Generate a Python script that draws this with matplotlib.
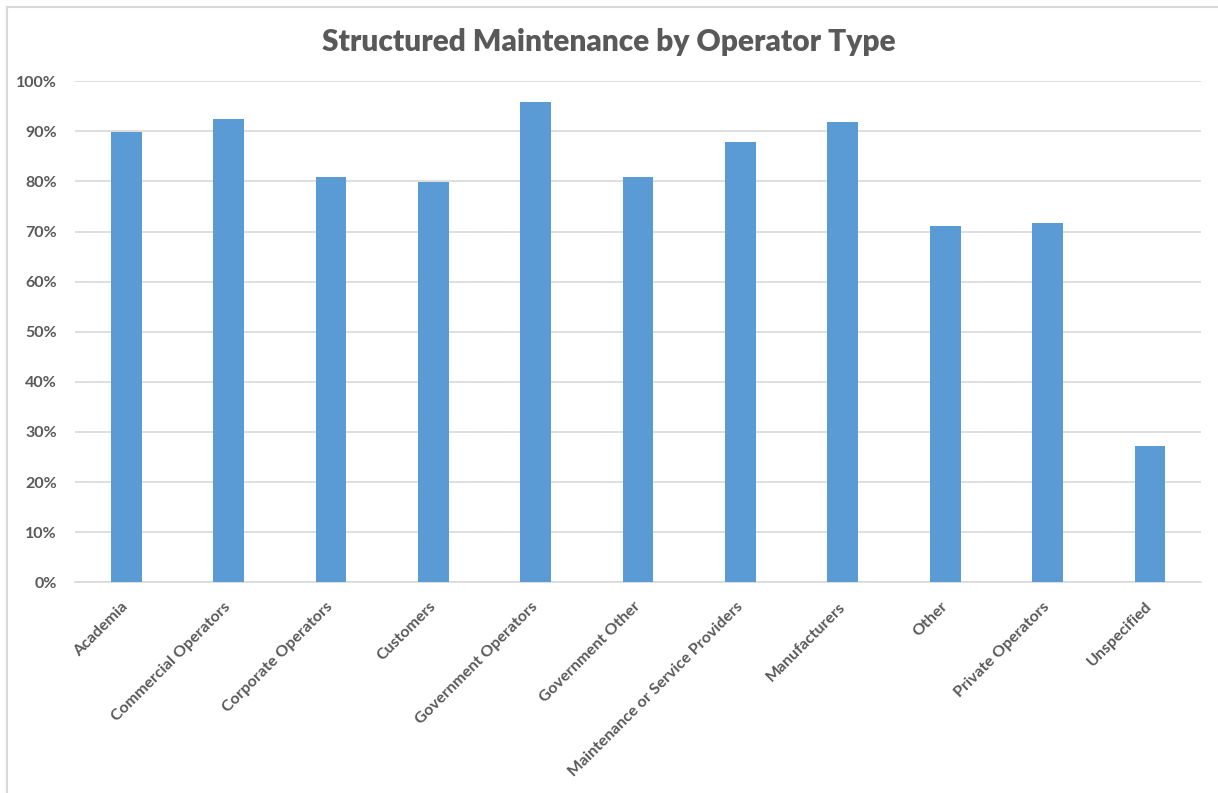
import numpy as np
import matplotlib.pyplot as plt
from matplotlib.ticker import PercentFormatter
from matplotlib.lines import Line2D

# --- Data ---
categories = ['Academia', 'Commercial Operators', 'Corporate Operators', 'Customers',
              'Government Operators', 'Government Other', 'Maintenance or Service Providers',
              'Manufacturers', 'Other', 'Private Operators', 'Unspecified']
values = [0.899, 0.925, 0.809, 0.799, 0.958, 0.809, 0.879, 0.918, 0.711, 0.717, 0.272]
yticks = [0.0, 0.1, 0.2, 0.3, 0.4, 0.5, 0.6, 0.7, 0.8, 0.9, 1.0]

TEXT = '#595959'
GRID = '#D9D9D9'
BAR = '#5B9BD5'

plt.rcParams['font.family'] = ['Lato', 'DejaVu Sans']

fig = plt.figure(figsize=(12.18, 7.93), dpi=100)
ax = fig.add_axes([0.0616, 0.2657, 0.9245, 0.6318])

x = np.arange(len(categories))
ax.bar(x, values, width=0.3, color=BAR, zorder=3)

ax.set_xlim(-0.5, len(categories) - 0.5)
ax.set_ylim(0, 1.0)
ax.set_yticks(yticks)
ax.yaxis.set_major_formatter(PercentFormatter(1.0, decimals=0))
ax.grid(axis='y', color=GRID, linewidth=1.2, zorder=0)
ax.set_axisbelow(True)

for s in ['top', 'right', 'left']:
    ax.spines[s].set_visible(False)
ax.spines['bottom'].set_color(GRID)
ax.spines['bottom'].set_linewidth(1.2)

ax.tick_params(axis='both', length=0, colors=TEXT)
ax.tick_params(axis='y', pad=13)
ax.tick_params(axis='x', pad=16)
ax.set_xticks(x)
ax.set_xticklabels(categories, rotation=45, ha='right', va='center', rotation_mode='anchor')
for lbl in ax.get_xticklabels() + ax.get_yticklabels():
    lbl.set_fontweight('bold')
    lbl.set_fontsize(11.5)
    lbl.set_color(TEXT)

fig.text(0.5, 0.947, 'Structured Maintenance by Operator Type', ha='center', va='center',
         fontsize=21.5, fontweight='heavy', color=TEXT)

# chart area border (top and left edges visible)
fig.add_artist(Line2D([7 / 1218, 1], [1 - 7 / 793, 1 - 7 / 793], color=GRID, linewidth=1.5,
                      transform=fig.transFigure))
fig.add_artist(Line2D([7 / 1218, 7 / 1218], [0, 1 - 7 / 793], color=GRID, linewidth=1.5,
                      transform=fig.transFigure))

fig.savefig('out.png', dpi=100)
